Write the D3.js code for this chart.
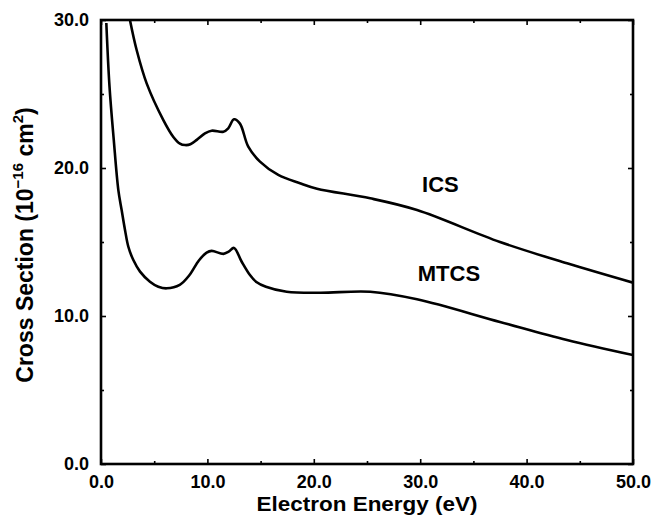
<!DOCTYPE html>
<html>
<head>
<meta charset="utf-8">
<script src="https://cdn.jsdelivr.net/npm/d3@7"></script>
<style>
  body { margin: 0; background: #fff; }
  text { font-family: "Liberation Sans", Arial, Helvetica, sans-serif; font-weight: bold; fill: #000; }
</style>
</head>
<body>
<div id="chart"></div>
<script>
var width = 653,
    height = 516,
    margin = {top: 20, right: 20, bottom: 52, left: 101}

// ICS curve
var icsEnergy = [2.72, 3.35, 4.3, 5.86, 6.8, 7.42, 7.9, 8.4, 9.0, 9.77, 10.4, 11.5, 11.96, 12.5, 13.06, 13.84, 14.94, 16.66, 18.7, 20.3, 25.3, 29.7, 37.5, 43.8, 50]
var icsValues = [30.0, 27.97, 25.7, 23.24, 22.1, 21.65, 21.55, 21.6, 21.9, 22.34, 22.52, 22.45, 22.68, 23.29, 23.0, 21.44, 20.43, 19.53, 18.97, 18.6, 17.95, 17.16, 15.0, 13.56, 12.25]

// MTCS curve
var mtcsEnergy = [0.5, 0.8, 1.2, 1.63, 1.94, 2.26, 2.57, 3.04, 3.67, 4.6, 5.39, 6.17, 7.4, 8.3, 9.2, 9.93, 10.4, 11.5, 12.0, 12.5, 13.2, 14.0, 14.6, 15.5, 17.45, 20.6, 25.3, 29.7, 37.5, 43.8, 50]
var mtcsValues = [29.8, 25.5, 21.9, 18.5, 17.16, 15.8, 14.68, 13.78, 13.0, 12.32, 11.98, 11.87, 12.1, 12.75, 13.75, 14.28, 14.4, 14.2, 14.35, 14.6, 13.7, 12.77, 12.3, 11.98, 11.64, 11.57, 11.64, 11.13, 9.6, 8.38, 7.36]

var xTicks = [0, 10, 20, 30, 40, 50],
    xMinor = [5, 15, 25, 35, 45],
    yTicks = [0, 10, 20, 30],
    yMinor = [5, 15, 25]

var w = width - margin.left - margin.right,
    h = height - margin.top - margin.bottom

var svg = d3.select('#chart')
  .append('svg')
  .attr('width', width)
  .attr('height', height)

var g = svg.append('g')
  .attr('transform', 'translate(' + margin.left + ',' + margin.top + ')')

var x = d3.scaleLinear().domain([0, 50]).range([0, w])
var y = d3.scaleLinear().domain([0, 30]).range([h, 0])
var fmt = d3.format('.1f')

g.append('clipPath').attr('id', 'plotclip')
  .append('rect').attr('width', w).attr('height', h)

// axes, ticks pointing inward on all four sides
function styleAxis(sel) {
  sel.select('.domain').remove()
  sel.selectAll('line').attr('stroke', '#000').attr('stroke-width', 1.6)
  sel.selectAll('text').style('font-size', '18px')
}

g.append('g').attr('transform', 'translate(0,' + h + ')')
  .call(d3.axisBottom(x).tickValues(xTicks).tickSize(-5).tickPadding(11).tickFormat(fmt))
  .call(styleAxis)
g.append('g').attr('transform', 'translate(0,' + h + ')')
  .call(d3.axisBottom(x).tickValues(xMinor).tickSize(-3).tickFormat(''))
  .call(styleAxis)
g.append('g')
  .call(d3.axisTop(x).tickValues(xTicks).tickSize(-5).tickFormat(''))
  .call(styleAxis)
g.append('g')
  .call(d3.axisTop(x).tickValues(xMinor).tickSize(-3).tickFormat(''))
  .call(styleAxis)

g.append('g')
  .call(d3.axisLeft(y).tickValues(yTicks).tickSize(-5).tickPadding(12).tickFormat(fmt))
  .call(styleAxis)
g.append('g')
  .call(d3.axisLeft(y).tickValues(yMinor).tickSize(-3).tickFormat(''))
  .call(styleAxis)
g.append('g').attr('transform', 'translate(' + w + ',0)')
  .call(d3.axisRight(y).tickValues(yTicks).tickSize(-5).tickFormat(''))
  .call(styleAxis)
g.append('g').attr('transform', 'translate(' + w + ',0)')
  .call(d3.axisRight(y).tickValues(yMinor).tickSize(-3).tickFormat(''))
  .call(styleAxis)

// curves
var line = d3.line()
  .x(d => x(d[0]))
  .y(d => y(d[1]))
  .curve(d3.curveCatmullRom.alpha(0.5))

var series = [
  {name: 'ICS', pts: d3.zip(icsEnergy, icsValues)},
  {name: 'MTCS', pts: d3.zip(mtcsEnergy, mtcsValues)}
]

g.append('g').attr('clip-path', 'url(#plotclip)')
  .selectAll('path')
  .data(series)
  .enter().append('path')
  .attr('d', d => line(d.pts))
  .attr('fill', 'none')
  .attr('stroke', '#000')
  .attr('stroke-width', 2.6)
  .attr('stroke-linejoin', 'round')

// frame
g.append('rect')
  .attr('width', w)
  .attr('height', h)
  .attr('fill', 'none')
  .attr('stroke', '#000')
  .attr('stroke-width', 2.6)

// curve labels
g.append('text').attr('x', x(31.9)).attr('y', y(18.4))
  .attr('text-anchor', 'middle').style('font-size', '22px').text('ICS')
g.append('text').attr('x', x(32.7)).attr('y', y(12.35))
  .attr('text-anchor', 'middle').style('font-size', '22px').text('MTCS')

// axis titles
svg.append('text')
  .attr('x', margin.left + w / 2)
  .attr('y', 511)
  .attr('text-anchor', 'middle')
  .attr('textLength', 221)
  .attr('lengthAdjust', 'spacingAndGlyphs')
  .style('font-size', '20px')
  .text('Electron Energy (eV)')

var yt = svg.append('text')
  .attr('transform', 'translate(33,' + (margin.top + h / 2 + 3) + ') rotate(-90)')
  .attr('text-anchor', 'middle')
  .style('font-size', '23px')
yt.append('tspan').text('Cross Section (10')
yt.append('tspan').attr('dy', -10).style('font-size', '15px').text('\u221216')
yt.append('tspan').attr('dy', 10).text(' cm')
yt.append('tspan').attr('dy', -10).style('font-size', '15px').text('2')
yt.append('tspan').attr('dy', 10).text(')')
</script>
</body>
</html>
